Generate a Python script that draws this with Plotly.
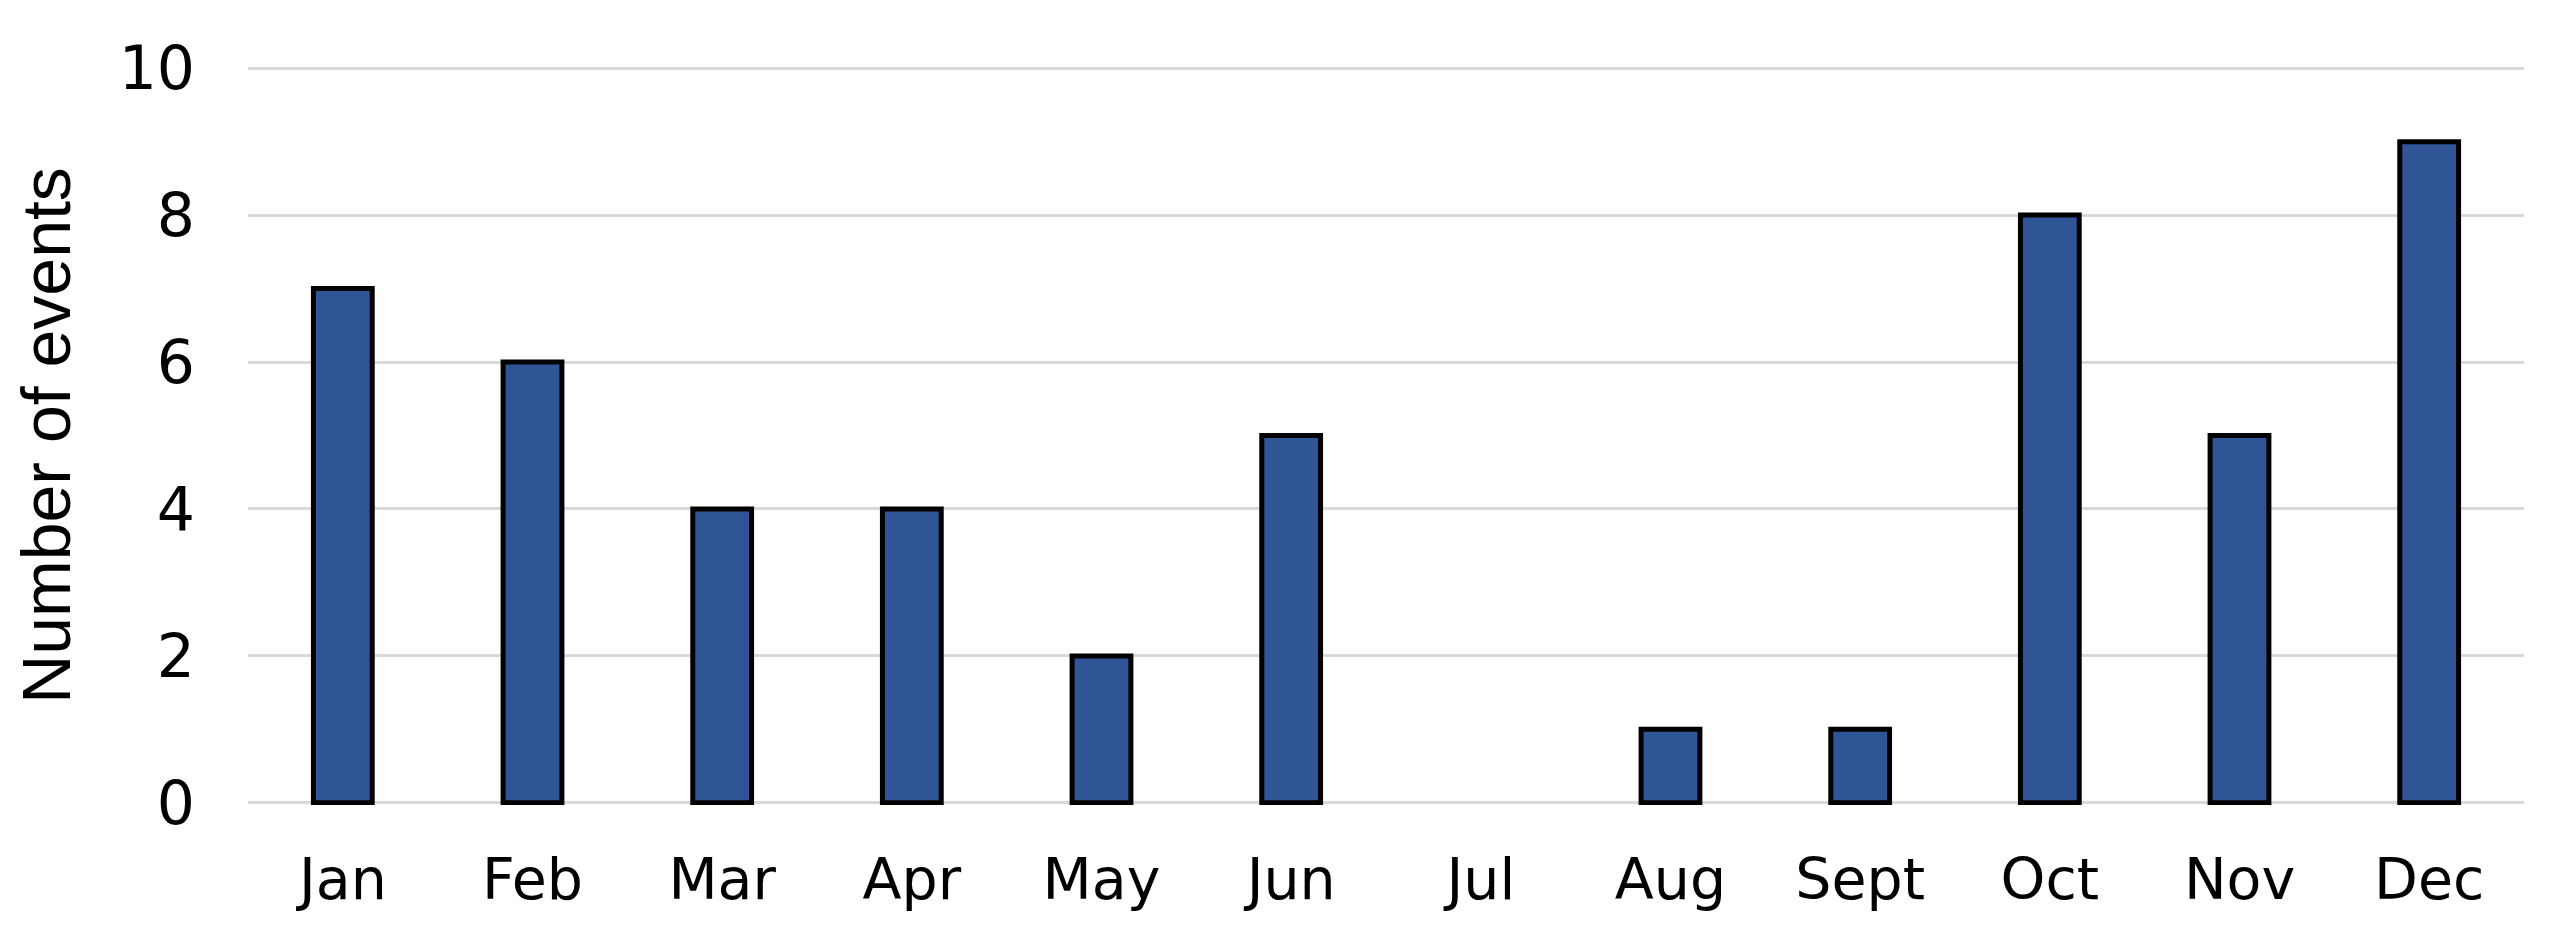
import plotly.graph_objects as go

months = ["Jan", "Feb", "Mar", "Apr", "May", "Jun", "Jul", "Aug", "Sept", "Oct", "Nov", "Dec"]
events = [7, 6, 4, 4, 2, 5, 0, 1, 1, 8, 5, 9]
y_ticks = [0, 2, 4, 6, 8, 10]

line_widths = [5 if v > 0 else 0 for v in events]

fig = go.Figure()
fig.add_trace(go.Bar(
    x=months,
    y=events,
    marker=dict(color="#2F5597", line=dict(color="#000000", width=line_widths)),
))

fig.update_layout(
    width=2549,
    height=937,
    margin=dict(l=240, r=33, t=58, b=140),
    paper_bgcolor="white",
    plot_bgcolor="white",
    bargap=0.69,
    showlegend=False,
    font=dict(family="DejaVu Sans", color="#000000"),
)
fig.update_xaxes(
    showgrid=False,
    showline=False,
    zeroline=False,
    tickfont=dict(family="DejaVu Sans", size=57, color="#000000"),
    ticklabelstandoff=36,
)
fig.update_yaxes(
    range=[-0.03, 10.03],
    tickvals=y_ticks,
    showgrid=True,
    gridcolor="#d9d9d9",
    gridwidth=3,
    zeroline=False,
    showline=False,
    tickfont=dict(family="DejaVu Sans", size=60, color="#000000"),
    ticklabelstandoff=52,
    title=dict(text="Number of events", font=dict(family="Liberation Sans", size=68, color="#000000"), standoff=32),
)

fig.write_html("out.html")
